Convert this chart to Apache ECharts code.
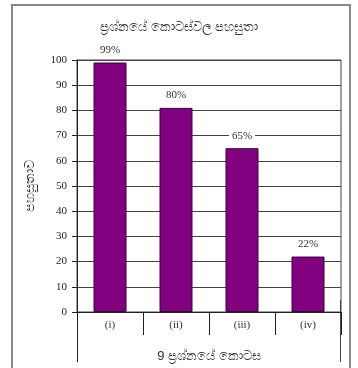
<!DOCTYPE html>
<html>
<head>
<meta charset="utf-8">
<script src="https://cdn.jsdelivr.net/npm/echarts@6/dist/echarts.min.js"></script>
<style>
  html, body { margin: 0; padding: 0; background: #fff; }
  #chart { width: 358px; height: 368px; }
</style>
</head>
<body>
<div id="chart"></div>
<script>
// data
var categories = ["(i)", "(ii)", "(iii)", "(iv)"];
var values = [99, 81, 65, 22];
var valueLabels = ["99%", "80%", "65%", "22%"];

var titleText = "ප්‍රශ්නයේ කොටස්වල පහසුතා";
var xName = "9 ප්‍රශ්නයේ කොටස";
var yName = "පහසුතාව";

var serif = "'Liberation Serif', 'DejaVu Serif', serif";

var chart = echarts.init(document.getElementById("chart"));

var option = {
  animation: false,
  title: {
    text: titleText,
    left: "center",
    top: 16,
    textStyle: { fontSize: 13, fontWeight: "normal", color: "#333" }
  },
  grid: {
    left: 77,
    right: 17,
    top: 60,
    bottom: 56,
    show: true,
    borderColor: "#444",
    borderWidth: 1
  },
  xAxis: {
    type: "category",
    data: categories,
    name: xName,
    nameLocation: "middle",
    nameGap: 38,
    nameTextStyle: { fontSize: 13, color: "#333" },
    axisLine: { lineStyle: { color: "#222", width: 1 } },
    axisTick: { show: true, length: 23, lineStyle: { color: "#222" } },
    axisLabel: { fontFamily: serif, fontSize: 11, color: "#333", margin: 8 }
  },
  yAxis: {
    type: "value",
    min: 0,
    max: 100,
    interval: 10,
    name: yName,
    nameLocation: "middle",
    nameGap: 40,
    nameTextStyle: { fontSize: 13, color: "#333" },
    axisLine: { show: true, lineStyle: { color: "#222", width: 1 } },
    axisTick: { show: true, length: 5, lineStyle: { color: "#222" } },
    axisLabel: { fontFamily: serif, fontSize: 11, color: "#222", margin: 10 },
    splitLine: { show: true, lineStyle: { color: "#444", width: 1 } }
  },
  series: [
    {
      type: "bar",
      data: values,
      barWidth: "50%",
      itemStyle: { color: "#800080", borderColor: "#3a003a", borderWidth: 1 },
      label: {
        show: true,
        position: "top",
        distance: 6,
        formatter: function (p) { return valueLabels[p.dataIndex]; },
        fontFamily: serif,
        fontSize: 11,
        color: "#333",
        backgroundColor: "#fff",
        padding: [1, 3]
      }
    }
  ],
  graphic: [
    {
      type: "rect",
      shape: { x: 12, y: 5, width: 338, height: 370 },
      style: { fill: null, stroke: "#888", lineWidth: 2 },
      z: -1
    },
    {
      type: "line",
      shape: { x1: 77.5, y1: 312, x2: 77.5, y2: 362 },
      style: { stroke: "#222", lineWidth: 1 }
    },
    {
      type: "line",
      shape: { x1: 340.5, y1: 300, x2: 340.5, y2: 362 },
      style: { stroke: "#444", lineWidth: 1 }
    }
  ]
};

chart.setOption(option);
</script>
</body>
</html>
